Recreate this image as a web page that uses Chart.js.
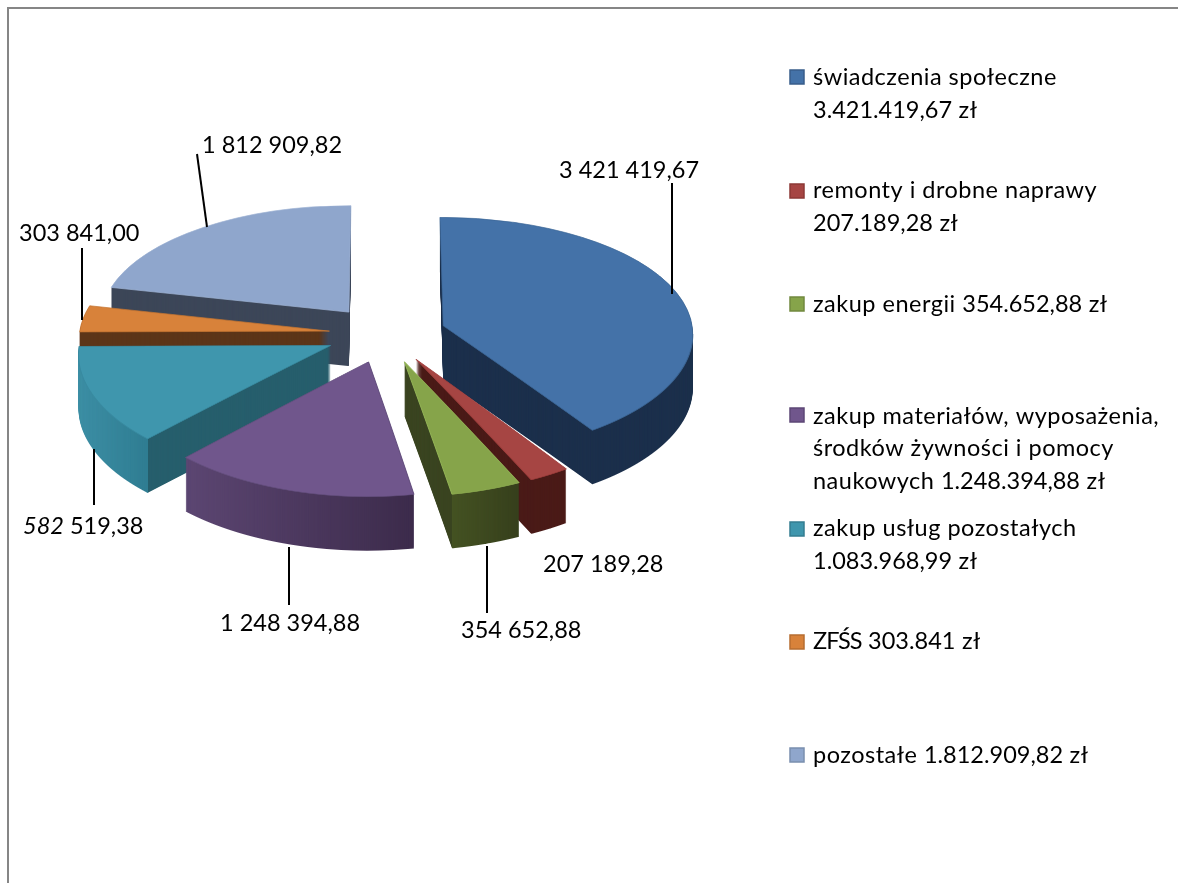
<!DOCTYPE html>
<html lang="pl">
<head>
<meta charset="UTF-8" />
<title>Wydatki</title>
<script src="https://cdn.jsdelivr.net/npm/chart.js"></script>
<style>
    html, body { margin: 0; padding: 0; background: #fff; overflow: hidden; }
    #frame { position: absolute; left: 7px; top: 7px; width: 1300px; height: 1000px; border-left: 2px solid #868686; border-top: 2px solid #868686; }
    #chart { position: absolute; left: 0; top: 0; }
</style>
</head>
<body>
<div id="frame"></div>
<canvas id="chart" width="1178" height="883"></canvas>
<script>
// values of the slices
const categories = ["świadczenia społeczne", "remonty i drobne naprawy", "zakup energii", "zakup materiałów, wyposażenia, środków żywności i pomocy naukowych", "zakup usług pozostałych", "ZFŚS", "pozostałe"];
const values = [3421419.67, 207189.28, 354652.88, 1248394.88, 1083968.99, 303841.00, 1812909.82];
// the printed label of the teal slice differs from its value, as in the original
const valueLabels = [["3 421 419,67"], ["207 189,28"], ["354 652,88"], ["1 248 394,88"], ["582", " 519,38"], ["303 841,00"], ["1 812 909,82"]];
const legendLines = [
    ["świadczenia społeczne", "3.421.419,67 zł"],
    ["remonty i drobne naprawy", "207.189,28 zł"],
    ["zakup energii 354.652,88 zł"],
    ["zakup materiałów, wyposażenia,", "środków żywności i pomocy", "naukowych 1.248.394,88 zł"],
    ["zakup usług pozostałych", "1.083.968,99 zł"],
    ["ZFŚS 303.841 zł"],
    ["pozostałe 1.812.909,82 zł"]
];

// styles
const topColors = ["#4472a8", "#a64543", "#86a44a", "#70568c", "#3f96ad", "#d8823a", "#8fa6cc"];
const edgeColors = ["#3d6796", "#a03f3d", "#93b356", "#65507f", "#398aa0", "#c47532", "#9fb3d4"];
const swatchEdges = ["#385d8a", "#8c3836", "#71893f", "#5c4776", "#357d91", "#b66d31", "#7a8fae"];
const rimFrom = ["#1b2f4b", "#4a1a17", "#445222", "#5c4672", "#3c8ea4", "#5c3518", "#3c4658"];
const rimTo = ["#1b2f4b", "#4a1a17", "#363f1c", "#3c2b4b", "#2f7d92", "#5c3518", "#3c4658"];
const wallColors = ["#1b2f4b", "#4a1a17", "#3a4420", null, "#265e6c", "#5c3518", "#3c4658"];
const drawOrder = [6, 5, 4, 0, 3, 1, 2];

// layout of the tilted pie
const FONT = "23.5px Lato";
const ITALIC = "italic 23.5px Lato";
const pieCenterX = 386, pieCenterY = 334, tilt = 0.475, perspective = 0.083, perspectiveX = 0.06, depth = 54, radius = 250;
const explodes = [60, 60, 60, 60, 60, 57, 60];
const labelAnchors = [[559, 178], [543, 572], [461, 638], [220, 631], [23, 534], [19, 241], [202, 153]];
const leaders = [[672, 183, 672, 294], null, [487, 546, 487, 613], [289, 547, 289, 605], [94, 449, 94, 505], [82, 248, 82, 320], [197, 154, 207, 227]];
const legendSwatchY = [77, 191, 304, 415, 529, 642, 755];
const legendBaselines = [[85, 118], [198, 231], [312], [424, 456, 489], [536, 569], [649], [763]];

// perspective of the pie plane
function scaleX(Y) {
    return 1 / (1 - perspectiveX * Y / radius);
}
function planeY(screenY) {
    const v = (screenY - pieCenterY) / tilt;
    return v / (1 + v * perspective / radius);
}
function projectX(X, Y) {
    return pieCenterX + X * scaleX(Y);
}

// paints one arc element row by row so its shape follows the perspective
function paintSlice(el, i, w, h) {
    const layer = document.createElement("canvas");
    layer.width = w;
    layer.height = h;
    const c = layer.getContext("2d");
    const mid = (el.startAngle + el.endAngle) / 2;
    const ax = explodes[i] * Math.cos(mid), ay = explodes[i] * Math.sin(mid);
    for (let y = 100; y < 600; y++) {
        const Y0 = planeY(y), Y1 = planeY(y + 1);
        const s = scaleX((Y0 + Y1) / 2), sy = 1 / (Y1 - Y0);
        c.save();
        c.beginPath();
        c.rect(0, y, w, 1);
        c.clip();
        c.transform(s, 0, 0, sy, pieCenterX + (ax - el.x) * s, y + (ay - el.y - Y0) * sy);
        el.draw(c);
        c.restore();
    }
    return layer;
}

function sideGradient(c, el, i) {
    const mid = (el.startAngle + el.endAngle) / 2;
    const ax = explodes[i] * Math.cos(mid), ay = explodes[i] * Math.sin(mid);
    const r = el.outerRadius;
    const rimX = (a) => projectX(ax + r * Math.cos(a), ay + r * Math.sin(a));
    const xs = [projectX(ax, ay), rimX(el.startAngle), rimX(el.endAngle)];
    for (const a of [0, Math.PI, 2 * Math.PI]) {
        if (a > el.startAngle && a < el.endAngle) xs.push(rimX(a));
    }
    const minX = Math.min(...xs), maxX = Math.max(...xs);
    const g = c.createLinearGradient(minX, 0, maxX, 0);
    if (!wallColors[i]) {
        g.addColorStop(0, rimFrom[i]);
        g.addColorStop(1, rimTo[i]);
        return g;
    }
    const rightSide = Math.cos(mid) > 0;
    const edgeX = rimX(rightSide ? el.endAngle : el.startAngle);
    const p = Math.min(1, Math.max(0, (edgeX - minX) / (maxX - minX)));
    if (rightSide) {
        g.addColorStop(0, wallColors[i]);
        g.addColorStop(p, wallColors[i]);
        g.addColorStop(p, rimFrom[i]);
        g.addColorStop(1, rimTo[i]);
    } else {
        g.addColorStop(0, rimFrom[i]);
        g.addColorStop(p, rimTo[i]);
        g.addColorStop(p, wallColors[i]);
        g.addColorStop(1, wallColors[i]);
    }
    return g;
}

// letters of the original font run wider than Lato, digits and capitals do not
function drawLegendLine(ctx, line, x, y) {
    line.split(/(\d[\d.,]*|[A-ZŚ]{2,})/).forEach((run) => {
        if (!run) return;
        if (/^\d/.test(run)) ctx.letterSpacing = "0px";
        else if (/^[A-ZŚ]{2,}$/.test(run)) ctx.letterSpacing = "-1px";
        else ctx.letterSpacing = "0.5px";
        ctx.fillText(run, x, y);
        x += ctx.measureText(run).width;
    });
    ctx.letterSpacing = "0px";
}

const pie3d = {
    id: "pie3d",
    beforeDatasetsDraw(chart) {
        const ctx = chart.ctx;
        const arcs = chart.getDatasetMeta(0).data;
        const W = chart.width, H = chart.height;
        drawOrder.forEach((i) => {
            const el = arcs[i];
            const own = el.options;
            el.options = Object.assign({}, own, { backgroundColor: "#000", borderColor: "#000", borderWidth: 0 });
            const side = paintSlice(el, i, W, H);
            el.options = own;
            const sc = side.getContext("2d");
            sc.globalCompositeOperation = "source-in";
            sc.fillStyle = sideGradient(sc, el, i);
            sc.fillRect(0, 0, W, H);
            for (let s = depth; s > 0; s--) {
                ctx.drawImage(side, 0, s);
            }
            ctx.drawImage(paintSlice(el, i, W, H), 0, 0);
        });
        return false;
    },
    afterDraw(chart) {
        const ctx = chart.ctx;
        ctx.save();
        ctx.fillStyle = "#000";
        ctx.strokeStyle = "#000";
        ctx.lineWidth = 2;
        ctx.textBaseline = "alphabetic";
        leaders.forEach((l) => {
            if (!l) return;
            ctx.beginPath();
            ctx.moveTo(l[0], l[1]);
            ctx.lineTo(l[2], l[3]);
            ctx.stroke();
        });
        valueLabels.forEach((parts, i) => {
            let x = labelAnchors[i][0];
            parts.forEach((part, p) => {
                ctx.font = parts.length > 1 && p === 0 ? ITALIC : FONT;
                ctx.fillText(part, x, labelAnchors[i][1]);
                x += ctx.measureText(part).width;
            });
        });
        ctx.font = FONT;
        legendLines.forEach((lines, i) => {
            ctx.fillStyle = topColors[i];
            ctx.fillRect(790, legendSwatchY[i] - 7, 14, 14);
            ctx.lineWidth = 1.5;
            ctx.strokeStyle = swatchEdges[i];
            ctx.strokeRect(790, legendSwatchY[i] - 7, 14, 14);
            ctx.fillStyle = "#000";
            lines.forEach((line, n) => drawLegendLine(ctx, line, 813, legendBaselines[i][n]));
        });
        ctx.restore();
    }
};

new Chart(document.getElementById("chart"), {
    type: "pie",
    data: {
        labels: categories,
        datasets: [{
            data: values,
            backgroundColor: topColors,
            borderColor: edgeColors,
            borderWidth: 1
        }]
    },
    options: {
        responsive: false,
        animation: false,
        radius: radius,
        plugins: { legend: { display: false }, tooltip: { enabled: false } }
    },
    plugins: [pie3d]
});
</script>
</body>
</html>
